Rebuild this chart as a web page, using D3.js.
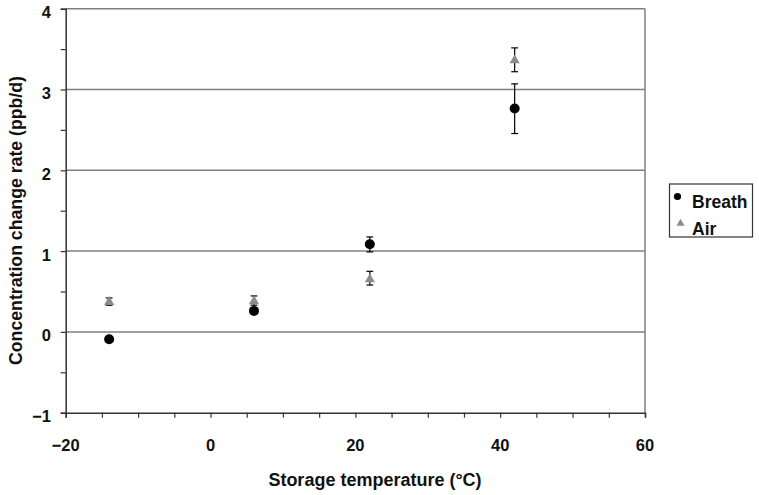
<!DOCTYPE html>
<html>
<head>
<meta charset="utf-8">
<script src="https://cdn.jsdelivr.net/npm/d3@7"></script>
<style>
  body { margin: 0; background: #fff; }
  text { font-family: "Liberation Sans", Arial, sans-serif; font-weight: bold; fill: #111; }
</style>
</head>
<body>
<div id="chart"></div>
<script>
// storage temperatures (deg C)
const temps = [-14, 6, 22, 42];
// concentration change rate (ppb/d) and error bar ends
const breath = [-0.09, 0.26, 1.085, 2.765];
const breathLo = [-0.12, 0.23, 0.99, 2.455];
const breathHi = [-0.06, 0.29, 1.175, 3.07];
const air = [0.37, 0.38, 0.65, 3.36];
const airLo = [0.33, 0.33, 0.58, 3.22];
const airHi = [0.42, 0.445, 0.75, 3.515];
const xTicks = [-20, 0, 20, 40, 60];
const yTicks = [-1, 0, 1, 2, 3, 4];
const seriesNames = ["Breath", "Air"];

const W = 759, H = 495;
const m = {left: 65.7, right: 645, top: 8.7, bottom: 412.7};

const svg = d3.select("#chart").append("svg")
  .attr("width", W)
  .attr("height", H);

const x = d3.scaleLinear().domain([-20, 60]).range([m.left, m.right]);
const y = d3.scaleLinear().domain([-1, 4]).range([m.bottom, m.top]);

const fmt = d => d < 0 ? "\u2212" + Math.abs(d) : d;

// gridlines
svg.append("g").selectAll("line")
  .data(yTicks.filter(d => d > -1))
  .join("line")
  .attr("x1", m.left).attr("x2", m.right)
  .attr("y1", d => y(d)).attr("y2", d => y(d))
  .attr("stroke", "#808080")
  .attr("stroke-width", 1.5);

// right border
svg.append("line")
  .attr("x1", m.right).attr("x2", m.right)
  .attr("y1", m.top).attr("y2", m.bottom)
  .attr("stroke", "#808080")
  .attr("stroke-width", 1.5);

// x axis
const xAxis = svg.append("g")
  .attr("transform", "translate(0," + m.bottom + ")")
  .call(d3.axisBottom(x).tickValues(d3.range(-20, 61, 5)).tickSize(5).tickFormat(""));
xAxis.select(".domain").attr("stroke", "#333").attr("stroke-width", 1.5);
xAxis.selectAll(".tick line").attr("stroke", "#333").attr("stroke-width", 1.2);

svg.append("g").selectAll("text")
  .data(xTicks)
  .join("text")
  .attr("x", d => x(d))
  .attr("y", 451)
  .attr("text-anchor", "middle")
  .style("font-size", "16.5px")
  .text(fmt);

// y axis
const yAxis = svg.append("g")
  .attr("transform", "translate(" + m.left + ",0)")
  .call(d3.axisLeft(y).tickValues(d3.range(-1, 4.01, 0.5)).tickSize(5).tickFormat(""));
yAxis.select(".domain").attr("stroke", "#333").attr("stroke-width", 1.5);
yAxis.selectAll(".tick line").attr("stroke", "#333").attr("stroke-width", 1.2);

svg.append("g").selectAll("text")
  .data(yTicks)
  .join("text")
  .attr("x", 51)
  .attr("y", d => y(d) + 9.5)
  .attr("text-anchor", "end")
  .style("font-size", "16.5px")
  .text(fmt);

// axis titles
svg.append("text")
  .attr("x", 375)
  .attr("y", 486)
  .attr("text-anchor", "middle")
  .style("font-size", "18px")
  .text("Storage temperature (\u00B0C)");

svg.append("text")
  .attr("transform", "translate(21.5,220.5) rotate(-90)")
  .attr("text-anchor", "middle")
  .style("font-size", "17.7px")
  .text("Concentration change rate (ppb/d)");

// error bars
const errBars = (lo, hi) => {
  const g = svg.append("g").attr("stroke", "#000").attr("stroke-width", 1.2);
  temps.forEach((t, i) => {
    g.append("line")
      .attr("x1", x(t)).attr("x2", x(t))
      .attr("y1", y(lo[i])).attr("y2", y(hi[i]));
    [lo[i], hi[i]].forEach(v => {
      g.append("line")
        .attr("x1", x(t) - 3.4).attr("x2", x(t) + 3.4)
        .attr("y1", y(v)).attr("y2", y(v));
    });
  });
};
errBars(breathLo, breathHi);
errBars(airLo, airHi);

const tri = d3.symbol().type(d3.symbolTriangle).size(45);

// air triangles
svg.append("g").selectAll("path")
  .data(temps)
  .join("path")
  .attr("d", tri)
  .attr("transform", (d, i) => "translate(" + x(d) + "," + y(air[i]) + ")")
  .attr("fill", "#8c8c8c");

// breath circles
svg.append("g").selectAll("circle")
  .data(temps)
  .join("circle")
  .attr("cx", d => x(d))
  .attr("cy", (d, i) => y(breath[i]))
  .attr("r", 5)
  .attr("fill", "#000");

// legend
const lg = svg.append("g");
lg.append("rect")
  .attr("x", 669.5).attr("y", 184)
  .attr("width", 83).attr("height", 53)
  .attr("fill", "#fff")
  .attr("stroke", "#333")
  .attr("stroke-width", 1.2);
lg.append("circle")
  .attr("cx", 677.5).attr("cy", 196.5)
  .attr("r", 3.6)
  .attr("fill", "#000");
lg.append("path")
  .attr("d", d3.symbol().type(d3.symbolTriangle).size(28))
  .attr("transform", "translate(680.5,223.5)")
  .attr("fill", "#8c8c8c");
lg.selectAll("text")
  .data(seriesNames)
  .join("text")
  .attr("x", 692)
  .attr("y", (d, i) => 207.5 + i * 27)
  .style("font-size", "17.5px")
  .text(d => d);
</script>
</body>
</html>
